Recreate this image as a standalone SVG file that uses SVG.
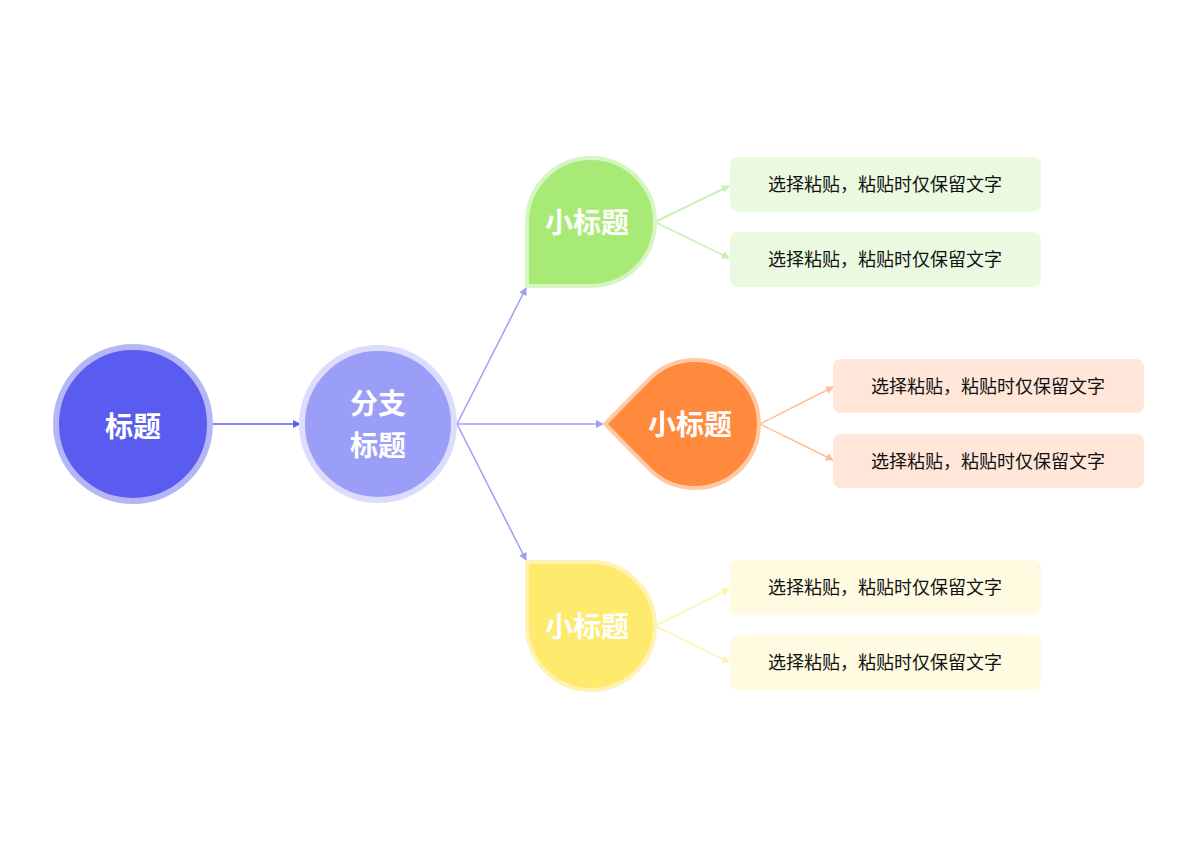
<svg xmlns="http://www.w3.org/2000/svg" width="1200" height="848" viewBox="0 0 1200 848">
<style>
.t{font-family:"Noto Sans CJK SC",sans-serif;text-anchor:middle}
.h{font-weight:bold;fill:#fff;font-size:28px}
.b{font-size:18px;fill:#111}
.c{fill:none;stroke-width:1.5}
</style>
<defs>
<marker id="mb" markerWidth="8" markerHeight="8" refX="7" refY="4" orient="auto" markerUnits="userSpaceOnUse"><path d="M0,0 L8,4 L0,8Z" fill="#9b9ef7"/></marker>
<marker id="mm" markerWidth="8" markerHeight="8" refX="7" refY="4" orient="auto" markerUnits="userSpaceOnUse"><path d="M0,0 L8,4 L0,8Z" fill="#5a5cf0"/></marker>
<marker id="mg" markerWidth="8" markerHeight="8" refX="7" refY="4" orient="auto" markerUnits="userSpaceOnUse"><path d="M0,0 L8,4 L0,8Z" fill="#c8f0b0"/></marker>
<marker id="mo" markerWidth="8" markerHeight="8" refX="7" refY="4" orient="auto" markerUnits="userSpaceOnUse"><path d="M0,0 L8,4 L0,8Z" fill="#fbbf98"/></marker>
<marker id="my" markerWidth="8" markerHeight="8" refX="7" refY="4" orient="auto" markerUnits="userSpaceOnUse"><path d="M0,0 L8,4 L0,8Z" fill="#fdf4b0"/></marker>
</defs>
<rect width="1200" height="848" fill="#fff"/>
<g id="connectors">
<path class="c" d="M212,424 L300,424" stroke="#5a5cf0" marker-end="url(#mm)"/>
<path class="c" d="M457,424 L526,288" stroke="#9b9ef7" marker-end="url(#mb)"/>
<path class="c" d="M457,424 L603,424" stroke="#9b9ef7" marker-end="url(#mb)"/>
<path class="c" d="M457,424 L526,560" stroke="#9b9ef7" marker-end="url(#mb)"/>
<path class="c" d="M655,222 L729,186 M655,222 L729,258" stroke="#c8f0b0" marker-end="url(#mg)"/>
<path class="c" d="M655,222 L729,186" stroke="#c8f0b0" marker-end="url(#mg)"/>
<path class="c" d="M760,424 L833,387" stroke="#fbbf98" marker-end="url(#mo)"/>
<path class="c" d="M760,424 L833,460" stroke="#fbbf98" marker-end="url(#mo)"/>
<path class="c" d="M655,626 L729,589" stroke="#fdf4b0" marker-end="url(#my)"/>
<path class="c" d="M655,626 L729,662" stroke="#fdf4b0" marker-end="url(#my)"/>
</g>
<g id="root"><circle cx="133" cy="424" r="77" fill="#5a5cf0" stroke="#b5b6f7" stroke-width="6"/><text class="t h" x="133" y="437">标题</text></g>
<g id="branch"><circle cx="378" cy="424" r="76" fill="#9b9ef7" stroke="#dcdcfc" stroke-width="6"/><text class="t h" x="378" y="414">分支</text><text class="t h" x="378" y="456">标题</text></g>
<g id="green"><path d="M527,286 L527,222 A64,64 0 1 1 591,286 Z" fill="#a7ea76" stroke="#d6f5c2" stroke-width="4"/><text class="t h" x="587" y="233" font-size="26">小标题</text></g>
<g id="orange"><path d="M605,424 L649.7,378.7 A64,64 0 1 1 649.7,469.3 Z" fill="#ff8a3d" stroke="#ffc9a6" stroke-width="4"/><text class="t h" x="690" y="435" font-size="26">小标题</text></g>
<g id="yellow"><path d="M527,562 L591,562 A64,64 0 1 1 527,626 Z" fill="#feea6c" stroke="#fef3b2" stroke-width="4"/><text class="t h" x="587" y="637" font-size="26">小标题</text></g>
<g id="g1"><rect x="730" y="157" width="311" height="55" rx="8" fill="#eafae1"/><text class="t b" x="885" y="191">选择粘贴，粘贴时仅保留文字</text></g>
<g id="g2"><rect x="730" y="232" width="311" height="55" rx="8" fill="#eafae1"/><text class="t b" x="885" y="266">选择粘贴，粘贴时仅保留文字</text></g>
<g id="o1"><rect x="833" y="359" width="311" height="54" rx="8" fill="#ffe6d8"/><text class="t b" x="988" y="393">选择粘贴，粘贴时仅保留文字</text></g>
<g id="o2"><rect x="833" y="434" width="311" height="54" rx="8" fill="#ffe6d8"/><text class="t b" x="988" y="468">选择粘贴，粘贴时仅保留文字</text></g>
<g id="y1"><rect x="730" y="560" width="311" height="55" rx="8" fill="#fefbe1"/><text class="t b" x="885" y="594">选择粘贴，粘贴时仅保留文字</text></g>
<g id="y2"><rect x="730" y="635" width="311" height="55" rx="8" fill="#fefbe1"/><text class="t b" x="885" y="669">选择粘贴，粘贴时仅保留文字</text></g>
</svg>
